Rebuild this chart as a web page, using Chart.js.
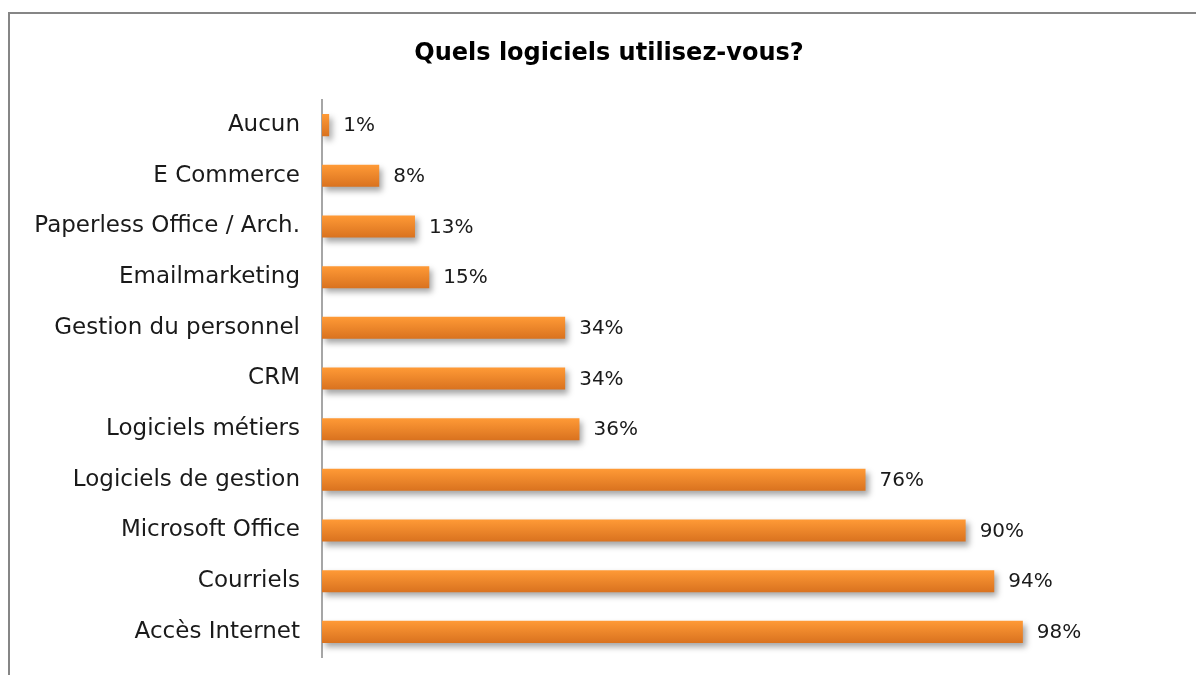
<!DOCTYPE html>
<html>
<head>
<meta charset="utf-8">
<script src="https://cdn.jsdelivr.net/npm/chart.js@4"></script>
<style>
  html, body { margin: 0; padding: 0; background: #fff; overflow: hidden; }
  #frame {
    position: absolute; left: 8px; top: 12px;
    width: 1300px; height: 800px;
    border: 2px solid #868686;
  }
  #softChart { position: absolute; left: -38px; top: 0; }
</style>
</head>
<body>
<div id="frame"></div>
<canvas id="softChart" width="1300" height="693"></canvas>
<script>
const categories = [
  "Aucun", "E Commerce", "Paperless Office / Arch.", "Emailmarketing",
  "Gestion du personnel", "CRM", "Logiciels métiers", "Logiciels de gestion",
  "Microsoft Office", "Courriels", "Accès Internet"
];
const percents = [1, 8, 13, 15, 34, 34, 36, 76, 90, 94, 98];
const chartTitle = "Quels logiciels utilisez-vous?";

const FONT = "'DejaVu Sans', sans-serif";

// shadow + vertical gradient on each bar
const barStyle = {
  id: "barStyle",
  beforeDatasetsDraw(chart) {
    const ctx = chart.ctx;
    chart.getDatasetMeta(0).data.forEach(el => {
      const h = el.height;
      const g = ctx.createLinearGradient(0, el.y - h / 2, 0, el.y + h / 2);
      g.addColorStop(0, "#FF9A36");
      g.addColorStop(1, "#D9721F");
      el.options.backgroundColor = g;
    });
    ctx.save();
    ctx.shadowColor = "rgba(0,0,0,0.35)";
    ctx.shadowBlur = 6;
    ctx.shadowOffsetX = 3;
    ctx.shadowOffsetY = 4;
  },
  afterDatasetsDraw(chart) {
    chart.ctx.restore();
  }
};

const valueLabels = {
  id: "valueLabels",
  afterDraw(chart) {
    const ctx = chart.ctx;
    const meta = chart.getDatasetMeta(0);
    ctx.save();
    ctx.font = "20px " + FONT;
    ctx.fillStyle = "#1a1a1a";
    ctx.textAlign = "left";
    ctx.textBaseline = "middle";
    meta.data.forEach((bar, i) => {
      ctx.fillText(percents[i] + "%", bar.x + 14, bar.y + 1);
    });
    ctx.restore();
  }
};

const ctx = document.getElementById("softChart").getContext("2d");
new Chart(ctx, {
  type: "bar",
  data: {
    labels: categories,
    datasets: [{
      data: percents,
      // scriptable so every bar gets its own options object
      backgroundColor: (c) => "#F58A2C",
      borderWidth: 0,
      barPercentage: 0.435,
      categoryPercentage: 1
    }]
  },
  plugins: [barStyle, valueLabels],
  options: {
    indexAxis: "y",
    responsive: false,
    animation: false,
    layout: {
      autoPadding: false,
      padding: { left: 0, right: 6, top: 0, bottom: 18 }
    },
    plugins: {
      legend: { display: false },
      tooltip: { enabled: false },
      title: {
        display: true,
        text: chartTitle,
        color: "#000",
        font: { family: FONT, size: 24, weight: "bold" },
        padding: { top: 39, bottom: 32 }
      }
    },
    scales: {
      x: { display: false, min: 0, max: 130.6 },
      y: {
        afterFit(scale) { scale.width = 360; },
        grid: { display: false, drawTicks: false },
        border: { display: true, color: "#a6a6a6", width: 2 },
        ticks: {
          padding: 22,
          color: "#1a1a1a",
          font: { family: FONT, size: 23 }
        }
      }
    }
  }
});
</script>
</body>
</html>
